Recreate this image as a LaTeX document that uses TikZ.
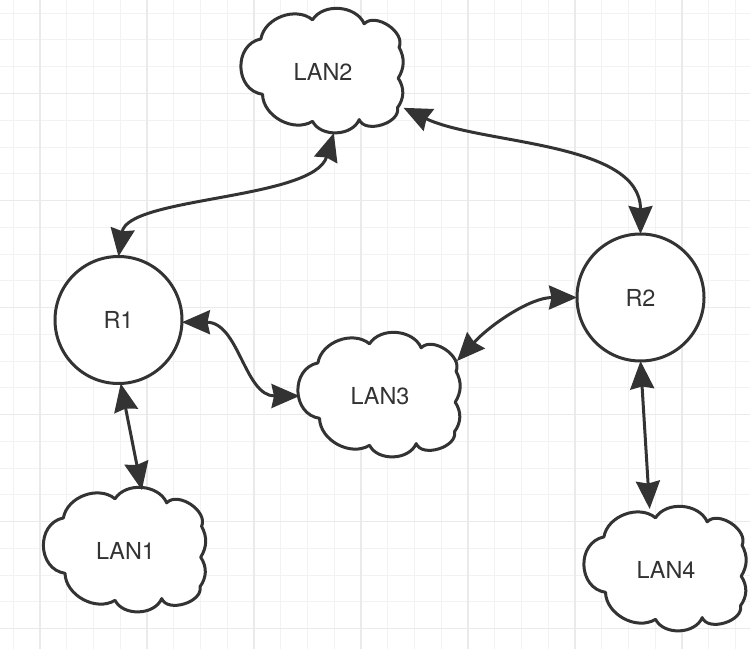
\documentclass[tikz,border=0pt]{standalone}
\usepackage{fontspec}
\setmainfont{TeX Gyre Heros}
\usetikzlibrary{arrows.meta,calc}
\definecolor{ink}{HTML}{333333}
\definecolor{gridminor}{HTML}{F2F2F2}
\definecolor{gridmajor}{HTML}{EAEAEA}
\tikzset{
  minorgrid/.style={draw=gridminor, line width=1bp},
  majorgrid/.style={draw=gridmajor, line width=1.3bp},
  router/.style={circle, draw=ink, line width=3bp, fill=white, minimum size=127bp, inner sep=0pt, outer sep=0pt, font=\fontsize{23.5}{28}\selectfont, text=ink},
  cloudbox/.style={rectangle, minimum width=161bp, minimum height=122bp, inner sep=0pt, outer sep=0pt, font=\fontsize{23.5}{28}\selectfont, text=ink},
  cloudline/.style={draw=ink, fill=white, line width=3bp, line join=round},
  linktip/.tip={Stealth[length=28bp,width=24bp,inset=2.5bp,line join=miter]},
  link/.style={draw=ink, line width=3bp, linktip-linktip}
}
\newcommand\lancloud[4]{%
  \draw[cloudline, shift={(#2,#3)}] (-62.1,-33.1) to[bend left=60] (-10.5,-52.2)
    to[bend left=62] (41.2,-48.2) to[bend left=80] (76.1,-24.7)
    to[bend left=30] (75.2,6.2) to[bend left=35] (74.5,35.7)
    to[bend left=85] (36.2,47.6) to[bend left=65] (-10.5,49.3)
    to[bend left=60] (-60.5,22.3) to[bend left=80,looseness=1.3] (-62.1,-33.1) -- cycle;
  \node[cloudbox] (#1) at (#2,#3) {#4};
}
\begin{document}
\begin{tikzpicture}[x=1bp, y=-1bp]
  \useasboundingbox (0,0) rectangle (750,649);
  \fill[white] (0,0) rectangle (750,649);
  % grid
  \foreach \i in {0,...,27} {
    \draw[minorgrid] ({13.25+26.75*\i},0) -- ({13.25+26.75*\i},649);
  }
  \foreach \i in {0,...,24} {
    \draw[minorgrid] (0,{13.25+26.75*\i}) -- (750,{13.25+26.75*\i});
  }
  \foreach \i in {0,...,6} {
    \draw[majorgrid] ({40+107*\i},0) -- ({40+107*\i},649);
  }
  \foreach \i in {0,...,5} {
    \draw[majorgrid] (0,{93.5+107*\i}) -- (750,{93.5+107*\i});
  }
  % nodes
  \node[router] (r1) at (118.5,320) {R1};
  \node[router] (r2) at (640.5,297.5) {R2};
  \lancloud{lan2}{323}{72}{LAN2}
  \lancloud{lan3}{380}{396}{LAN3}
  \lancloud{lan1}{125.5}{551}{LAN1}
  \lancloud{lan4}{666}{570}{LAN4}
  % connectors
  \draw[link] (r1.north) .. controls +(9,-60) and +(-20,67) .. (lan2.-80);
  \draw[link] (lan2.-24) .. controls +(77,37) and +(0,-93) .. (r2.north);
  \draw[link] (r1.-2) .. controls +(57,0) and +(-55,0) .. (lan3.west);
  \draw[link] ($(lan3.center)+(77,-35)$) .. controls +(33,-36) and +(-47,0) .. (r2.west);
  \draw[link] (r1.-88) -- (lan1.75);
  \draw[link] (r2.south) -- (lan4.105);
\end{tikzpicture}
\end{document}
